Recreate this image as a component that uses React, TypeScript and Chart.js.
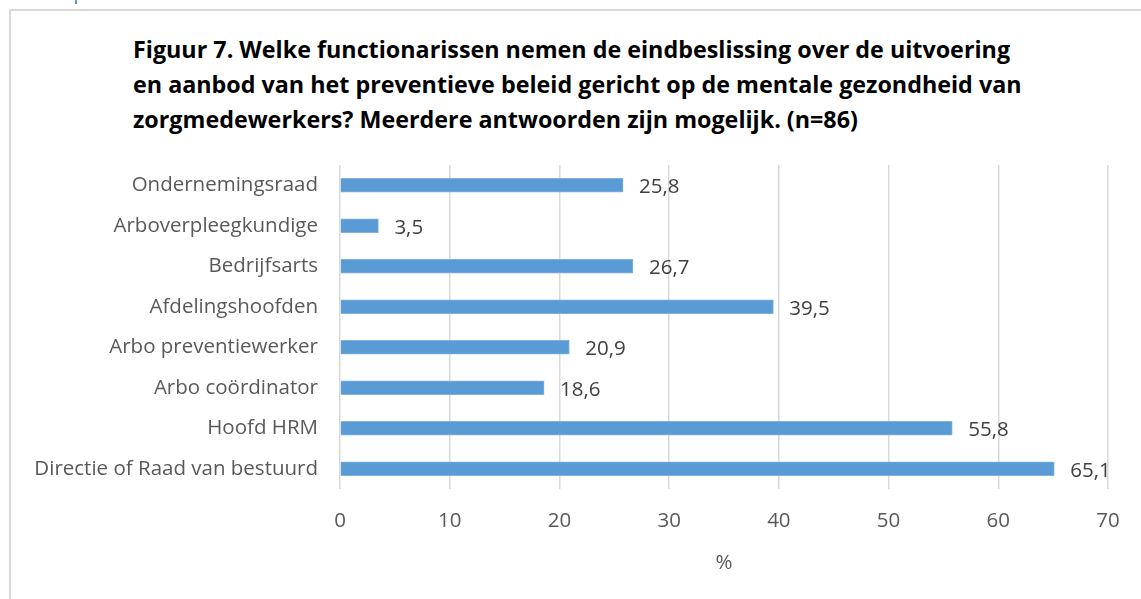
import React, { useEffect, useRef } from "react";
import { Chart, registerables } from "chart.js";

Chart.register(...registerables);

const categories = [
  "Ondernemingsraad",
  "Arboverpleegkundige",
  "Bedrijfsarts",
  "Afdelingshoofden",
  "Arbo preventiewerker",
  "Arbo coördinator",
  "Hoofd HRM",
  "Directie of Raad van bestuurd",
];
const values = [25.8, 3.5, 26.7, 39.5, 20.9, 18.6, 55.8, 65.1];
const xTicks = [0, 10, 20, 30, 40, 50, 60, 70];
const titleLines = [
  "Figuur 7. Welke functionarissen nemen de eindbeslissing over de uitvoering",
  "en aanbod van het preventieve beleid gericht op de mentale gezondheid van",
  "zorgmedewerkers? Meerdere antwoorden zijn mogelijk. (n=86)",
];
const xTitle = "%";

const FONT = "'Open Sans', sans-serif";

const labelPlugin = {
  id: "barValueLabels",
  afterDatasetsDraw(chart: any) {
    const ctx = chart.ctx;
    const meta = chart.getDatasetMeta(0);
    ctx.save();
    ctx.font = `20.5px ${FONT}`;
    ctx.fillStyle = "#404040";
    ctx.textAlign = "left";
    ctx.textBaseline = "middle";
    meta.data.forEach((bar: any, i: number) => {
      const v = values[i];
      const txt = v.toFixed(1).replace(".", ",");
      ctx.fillText(txt, bar.x + 16, bar.y + 2);
    });
    ctx.restore();
  },
};

export default function App() {
  const ref = useRef<HTMLCanvasElement>(null);
  useEffect(() => {
    if (!ref.current) return;
    const chart = new Chart(ref.current, {
      type: "bar",
      data: {
        labels: categories,
        datasets: [
          {
            data: values,
            backgroundColor: "#5B9BD5",
            borderColor: "#7FB0DE",
            borderWidth: 1,
            barThickness: 14,
          },
        ],
      },
      plugins: [labelPlugin],
      options: {
        indexAxis: "y",
        animation: false,
        responsive: false,
        layout: { padding: { left: 20, right: 33, top: 165, bottom: 0 } },
        plugins: {
          legend: { display: false },
          tooltip: { enabled: false },
          title: { display: false },
        },
        scales: {
          x: {
            min: 0,
            max: 70,
            afterBuildTicks: (scale: any) => {
              scale.ticks = xTicks.map((v) => ({ value: v }));
            },
            afterFit: (scale: any) => {
              scale.height = 110;
            },
            grid: { color: "#D9D9D9", lineWidth: 1.5, drawTicks: false },
            border: { display: false },
            ticks: {
              padding: 20,
              color: "#595959",
              font: { family: FONT, size: 20.5 },
            },
            title: {
              display: true,
              text: xTitle,
              color: "#595959",
              font: { family: FONT, size: 20.5 },
              padding: { top: 0, bottom: 24 },
            },
          },
          y: {
            afterFit: (scale: any) => {
              scale.width = 320;
            },
            grid: { display: false, drawTicks: false },
            border: { display: false },
            ticks: {
              padding: 22,
              color: "#595959",
              font: { family: FONT, size: 20.5 },
            },
          },
        },
      },
    } as any);
    return () => chart.destroy();
  }, []);

  return (
    <div
      style={{
        position: "absolute",
        left: 0,
        top: 0,
        width: 1141,
        height: 599,
        overflow: "hidden",
        background: "#fff",
      }}
    >
      <div
        style={{
          position: "absolute",
          left: 75,
          top: 0,
          width: 2,
          height: 4,
          background: "#5B9BD5",
        }}
      />
      <div
        style={{
          position: "absolute",
          left: 9,
          top: 9,
          width: 1300,
          height: 800,
          border: "2px solid #D9D9D9",
        }}
      />
      <div
        style={{
          position: "absolute",
          left: 133,
          top: 32,
          fontFamily: FONT,
          fontWeight: 700,
          fontSize: 23.3,
          lineHeight: "35px",
          color: "#000",
          whiteSpace: "nowrap",
        }}
      >
        {titleLines.map((l, i) => (
          <div key={i}>{l}</div>
        ))}
      </div>
      <canvas
        ref={ref}
        width={1141}
        height={599}
        style={{ position: "absolute", left: 0, top: 0 }}
      />
    </div>
  );
}
